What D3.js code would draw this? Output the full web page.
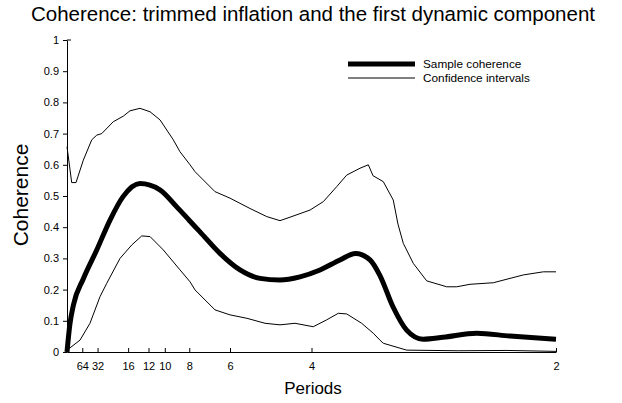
<!DOCTYPE html>
<html>
<head>
<meta charset="utf-8">
<script src="https://cdn.jsdelivr.net/npm/d3@7"></script>
<style>
  body { margin: 0; background: #fff; }
  svg { font-family: "Liberation Sans", Arial, sans-serif; }
  .axis path, .axis line { stroke: #000; stroke-width: 1; }
  .axis text { font-size: 11px; fill: #000; }
</style>
</head>
<body>
<svg></svg>
<script>
// frequency (cycles per period) -> value
var sampleCoherence = [
  [0, 0], [0.003, 0.09], [0.0065, 0.15], [0.0167, 0.235], [0.0304, 0.327],
  [0.044, 0.423], [0.0573, 0.498], [0.0746, 0.54], [0.095, 0.52], [0.112, 0.466],
  [0.1256, 0.42], [0.136, 0.385], [0.1564, 0.316], [0.1769, 0.263], [0.1973, 0.236],
  [0.2178, 0.231], [0.2382, 0.241], [0.2587, 0.263], [0.2791, 0.295], [0.2950, 0.316],
  [0.3098, 0.295], [0.32, 0.245], [0.3333, 0.145], [0.3473, 0.07], [0.364, 0.041],
  [0.3845, 0.047], [0.4189, 0.06], [0.453, 0.051], [0.5, 0.041]
];

var upperBand = [
  [0, 0.658], [0.0048, 0.543], [0.0092, 0.543], [0.0167, 0.615], [0.0253, 0.68],
  [0.0304, 0.695], [0.0355, 0.70], [0.0473, 0.738], [0.0576, 0.756], [0.0644, 0.773],
  [0.0746, 0.781], [0.0849, 0.77], [0.0951, 0.744], [0.1087, 0.68], [0.1155, 0.642],
  [0.1258, 0.6], [0.1309, 0.578], [0.1513, 0.514], [0.1667, 0.493], [0.1871, 0.46],
  [0.2042, 0.434], [0.2178, 0.421], [0.228, 0.432], [0.2485, 0.455], [0.2621, 0.482],
  [0.2758, 0.53], [0.286, 0.567], [0.2996, 0.589], [0.3081, 0.6], [0.3129, 0.565],
  [0.3234, 0.546], [0.3336, 0.487], [0.3384, 0.41], [0.3439, 0.348], [0.3541, 0.284],
  [0.3678, 0.228], [0.3882, 0.209], [0.3985, 0.209], [0.4121, 0.217], [0.4359, 0.222],
  [0.4666, 0.247], [0.487, 0.257], [0.5, 0.257]
];

var lowerBand = [
  [0, 0.006], [0.0133, 0.038], [0.0235, 0.092], [0.0337, 0.177], [0.0406, 0.22],
  [0.0542, 0.30], [0.0662, 0.343], [0.0764, 0.372], [0.0849, 0.37], [0.0985, 0.327],
  [0.1156, 0.263], [0.1258, 0.225], [0.1309, 0.199], [0.1513, 0.135], [0.1667, 0.119],
  [0.184, 0.108], [0.2025, 0.092], [0.2178, 0.087], [0.2331, 0.092], [0.2518, 0.081],
  [0.2655, 0.103], [0.2774, 0.124], [0.286, 0.122], [0.3013, 0.092], [0.3132, 0.06],
  [0.32, 0.038], [0.3234, 0.028], [0.3473, 0.006], [0.40, 0.004], [0.45, 0.005],
  [0.5, 0.002]
];

var periodTicks = [64, 32, 16, 12, 10, 8, 6, 4, 2];
var yTicks = [0, 0.1, 0.2, 0.3, 0.4, 0.5, 0.6, 0.7, 0.8, 0.9, 1];

var w = 622, h = 403;
var margin = { top: 40, right: 66, bottom: 51, left: 67 };

var svg = d3.select('svg').attr('width', w).attr('height', h);

var x = d3.scaleLinear().domain([0, 0.5]).range([margin.left, w - margin.right]);
var y = d3.scaleLinear().domain([0, 1]).range([h - margin.bottom, margin.top]);

// axes
var yAxis = d3.axisLeft(y)
  .tickValues(yTicks)
  .tickSize(4)
  .tickSizeOuter(0)
  .tickPadding(4)
  .tickFormat(function(d) { return d3.format('~g')(d); });

svg.append('g').attr('class', 'axis')
  .attr('transform', 'translate(' + margin.left + ',0)')
  .call(yAxis);

// little cap at the top of the y axis
svg.append('line')
  .attr('x1', margin.left).attr('x2', margin.left + 4)
  .attr('y1', y(1)).attr('y2', y(1))
  .attr('stroke', '#000');

var xAxis = d3.axisBottom(x)
  .tickValues(periodTicks.map(function(p) { return 1 / p; }))
  .tickSize(-4)
  .tickSizeOuter(0)
  .tickPadding(10)
  .tickFormat(function(f) { return Math.round(1 / f); });

svg.append('g').attr('class', 'axis')
  .attr('transform', 'translate(0,' + y(0) + ')')
  .call(xAxis);

// lines
var line = d3.line()
  .x(function(d) { return x(d[0]); })
  .y(function(d) { return y(d[1]); });

var smooth = d3.line()
  .curve(d3.curveMonotoneX)
  .x(function(d) { return x(d[0]); })
  .y(function(d) { return y(d[1]); });

svg.append('path').datum(upperBand)
  .attr('d', line).attr('fill', 'none').attr('stroke', '#000').attr('stroke-width', 1);
svg.append('path').datum(lowerBand)
  .attr('d', line).attr('fill', 'none').attr('stroke', '#000').attr('stroke-width', 1);
svg.append('path').datum(sampleCoherence)
  .attr('d', smooth).attr('fill', 'none').attr('stroke', '#000').attr('stroke-width', 5)
  .attr('stroke-linejoin', 'round');

// labels
svg.append('text')
  .attr('x', 313).attr('y', 21)
  .attr('text-anchor', 'middle')
  .style('font-size', '20.5px')
  .text('Coherence: trimmed inflation and the first dynamic component');

svg.append('text')
  .attr('transform', 'translate(28,195) rotate(-90)')
  .attr('text-anchor', 'middle')
  .style('font-size', '21px')
  .text('Coherence');

svg.append('text')
  .attr('x', 313).attr('y', 394)
  .attr('text-anchor', 'middle')
  .style('font-size', '17px')
  .text('Periods');

// legend
var legend = svg.append('g');
var items = [
  { label: 'Sample coherence', width: 5, y: 64 },
  { label: 'Confidence intervals', width: 1, y: 78 }
];
items.forEach(function(it) {
  legend.append('line')
    .attr('x1', 348).attr('x2', 415)
    .attr('y1', it.y).attr('y2', it.y)
    .attr('stroke', '#000').attr('stroke-width', it.width);
  legend.append('text')
    .attr('x', 423).attr('y', it.y + 4)
    .style('font-size', '11.8px')
    .text(it.label);
});
</script>
</body>
</html>
